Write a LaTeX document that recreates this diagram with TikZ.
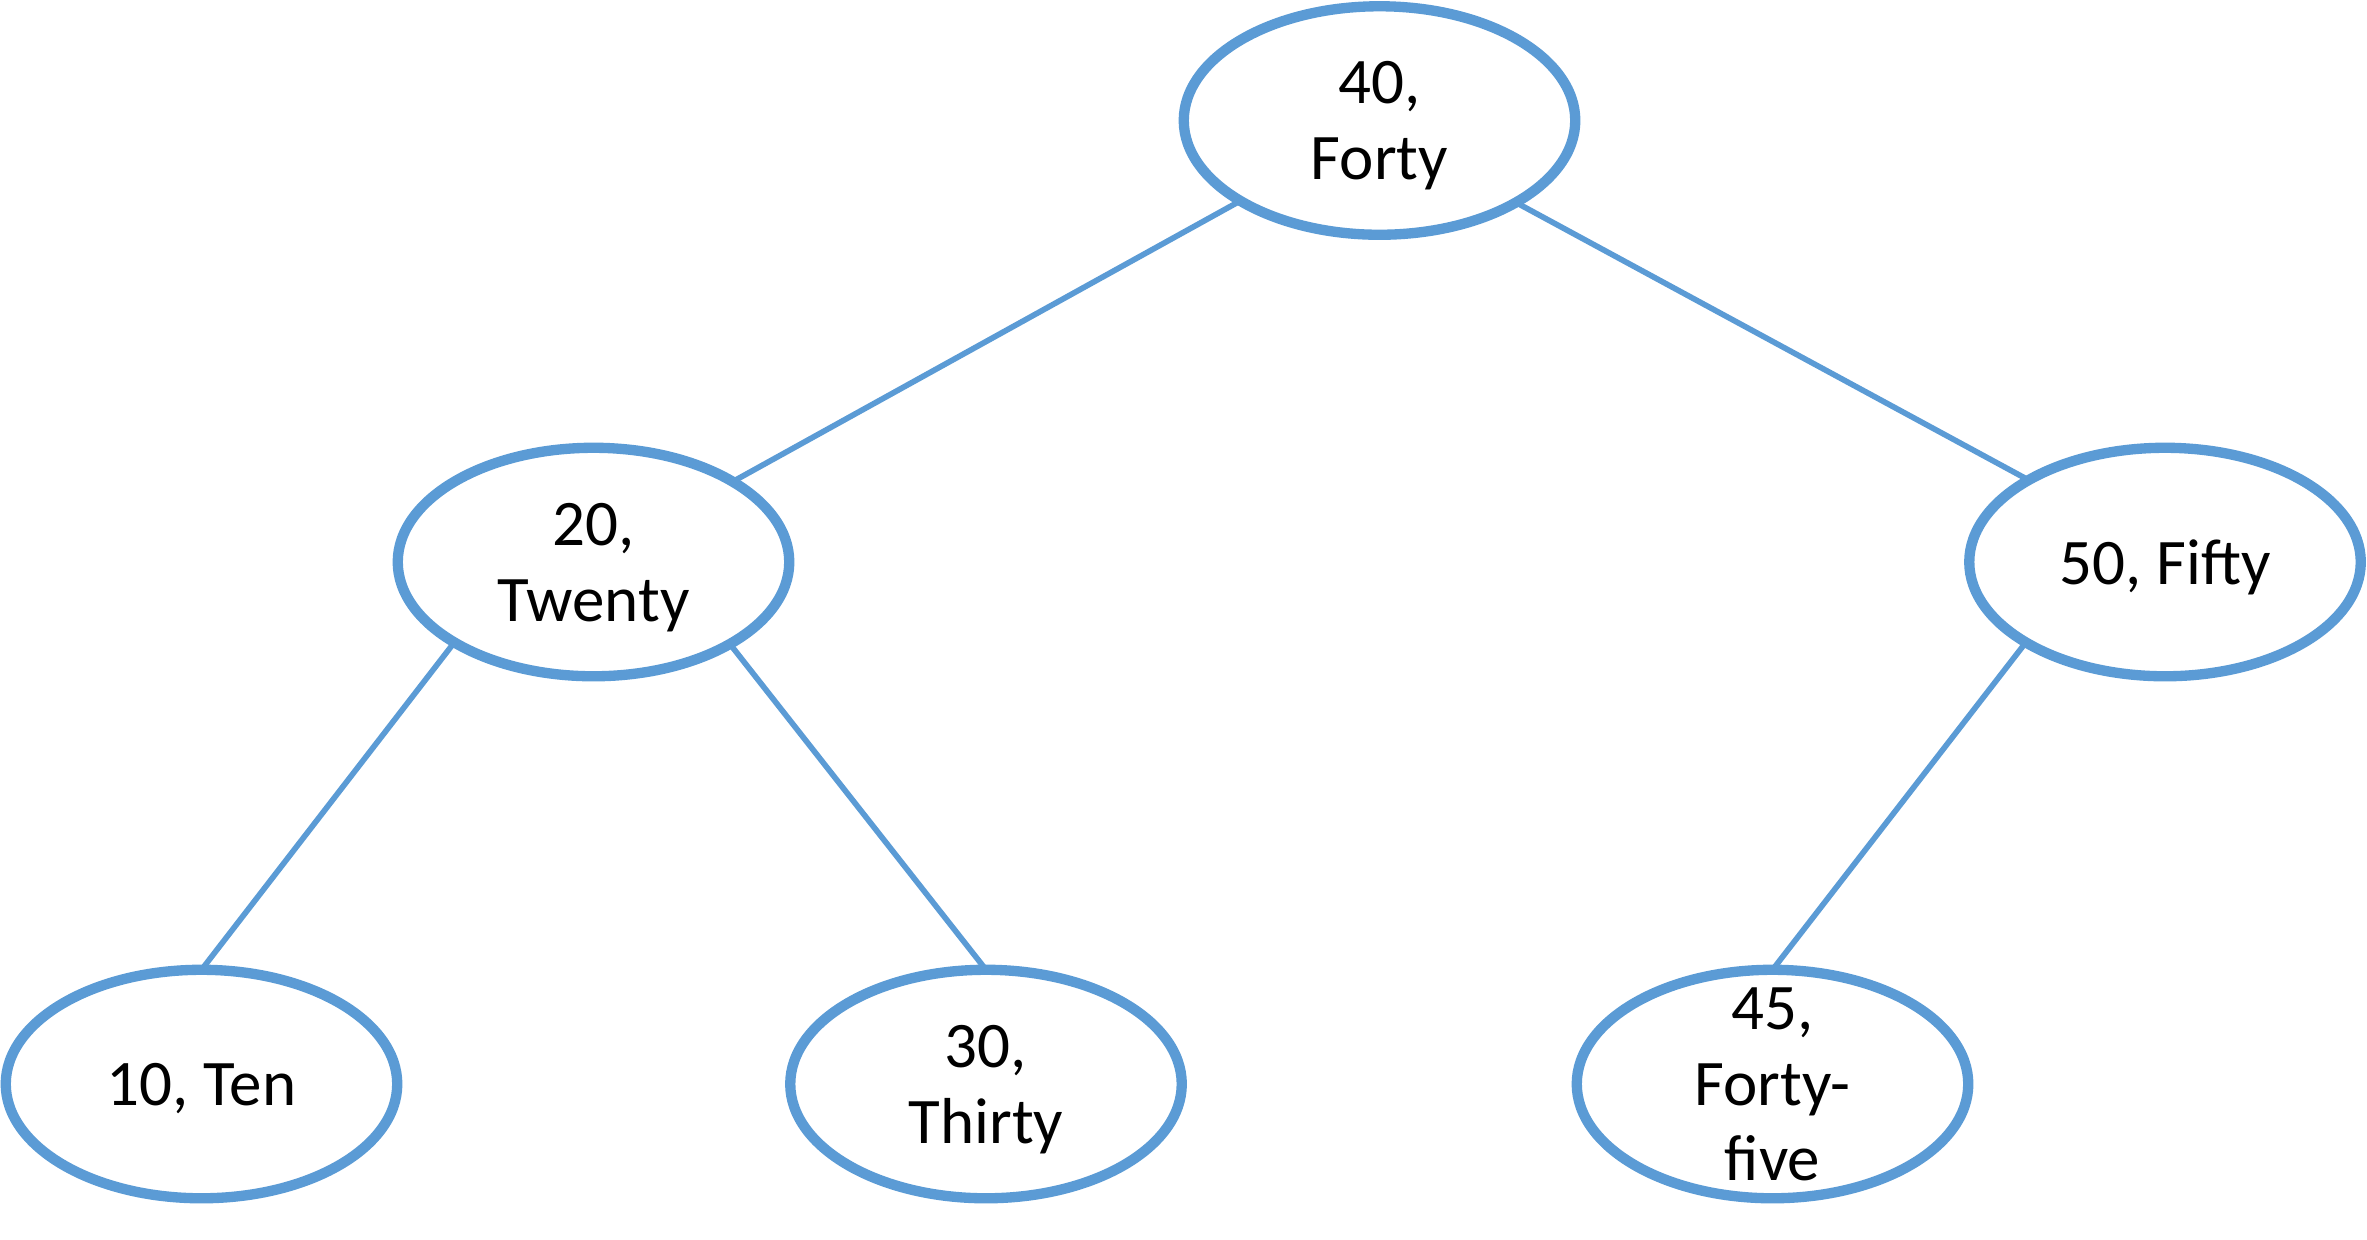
\documentclass[tikz,border=0pt]{standalone}
\usepackage{fontspec}
\setmainfont{Carlito}
\usetikzlibrary{shapes.geometric}
\definecolor{treeblue}{HTML}{5B9BD5}
\newcommand{\tstrut}{\rule[-4.5pt]{0pt}{14.5pt}}
\tikzset{
  ell/.style={ellipse, draw=treeblue, line width=3.1pt, fill=white,
    minimum width=117.45pt, minimum height=68.55pt, inner sep=0pt, outer sep=0pt},
  lbl/.style={inner sep=0pt, outer sep=0pt, align=center, text=black,
    font=\fontsize{19.5pt}{22.7pt}\selectfont, yshift=-2.3pt,
    execute at begin node=\tstrut, execute at end node=\tstrut},
  edge/.style={draw=treeblue, line width=1.7pt}
}
\begin{document}
\begin{tikzpicture}[x=0.3pt,y=-0.3pt]
\useasboundingbox (0,0) rectangle (2367,1239);
\coordinate (c40) at (1379.5,120.5);
\coordinate (c20) at (593.5,562);
\coordinate (c50) at (2165,562);
\coordinate (c10) at (201.5,1084);
\coordinate (c30) at (986,1084);
\coordinate (c45) at (1772.5,1084);
\node[ell] (n40) at (c40) {};
\node[ell] (n20) at (c20) {};
\node[ell] (n50) at (c50) {};
\node[ell] (n10) at (c10) {};
\node[ell] (n30) at (c30) {};
\node[ell] (n45) at (c45) {};
\draw[edge] (n40.210.24) -- (n20.30.24);
\draw[edge] (n40.329.76) -- (n50.149.76);
\draw[edge] (n20.210.24) -- (n10.north);
\draw[edge] (n20.329.76) -- (n30.north);
\draw[edge] (n50.210.24) -- (n45.north);
\node[lbl] (t40) at (n40.center) {40,\\Forty};
\node[lbl] (t20) at (n20.center) {20,\\Twenty};
\node[lbl] (t50) at (n50.center) {50, Fifty};
\node[lbl] (t10) at (n10.center) {10, Ten};
\node[lbl] (t30) at (n30.center) {30,\\Thirty};
\node[lbl] (t45) at (n45.center) {45,\\Forty-\\five};
\end{tikzpicture}
\end{document}
